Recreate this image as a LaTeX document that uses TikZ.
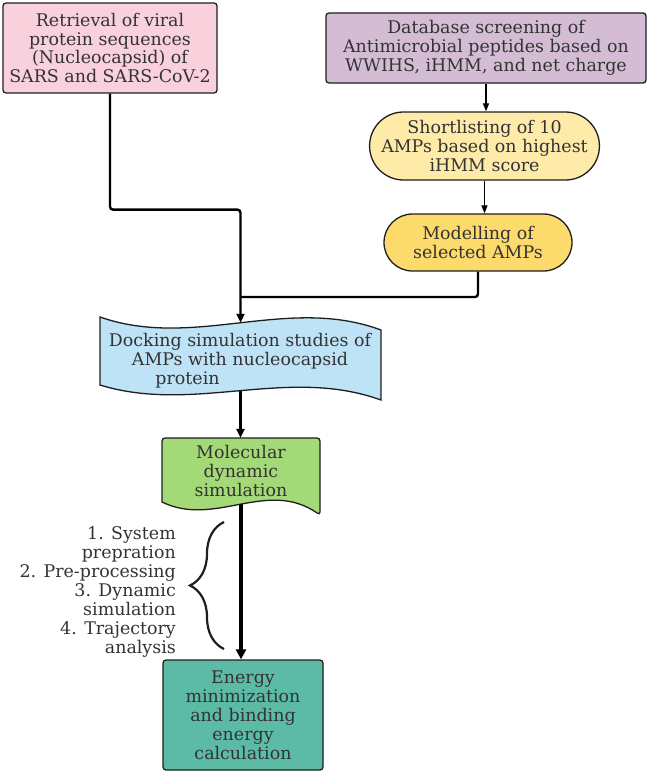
\documentclass[tikz,border=0pt]{standalone}
\usepackage{fontspec}
\setmainfont{DejaVu Serif}
\usetikzlibrary{arrows.meta,shapes.misc,decorations.pathreplacing}
\definecolor{pinkbox}{HTML}{F9D1DD}
\definecolor{purplebox}{HTML}{D4BDD4}
\definecolor{lightyellow}{HTML}{FEEBA9}
\definecolor{darkyellow}{HTML}{FCDA6C}
\definecolor{skybox}{HTML}{BEE3F6}
\definecolor{greenbox}{HTML}{A4D977}
\definecolor{tealbox}{HTML}{5CBBA6}
\definecolor{txt}{HTML}{333333}
\definecolor{edge}{HTML}{1E1E1E}
\begin{document}
\begin{tikzpicture}[x=1bp,y=-1bp,
        every node/.style={font=\fontsize{17.5}{19}\selectfont,text=txt,align=center,inner sep=0pt},
        box/.style={draw=edge,line width=1.3bp,rounded corners=3bp},
        pill/.style={draw=edge,line width=1.3bp,rounded rectangle},
        shape line/.style={draw=edge,line width=1.3bp},
        link/.style={draw=black,line width=2.4bp,rounded corners=3bp},
        flow/.style={link,-{Triangle[length=9bp,width=8bp]}},
        thinflow/.style={draw=black,line width=1.2bp,-{Triangle[length=8bp,width=6bp]}},
        bigflow/.style={draw=black,line width=3.6bp,-{Triangle[length=10bp,width=10bp]}}]
        \useasboundingbox (0,0) rectangle (648,774);
        % top boxes
        \node[box,fill=pinkbox,minimum width=214bp,minimum height=90bp] (retr) at (110,48)
            {Retrieval of viral\\protein sequences\\(Nucleocapsid) of\\SARS and SARS-CoV-2};
        \node[box,fill=purplebox,minimum width=320bp,minimum height=70bp] (dbs) at (486,48)
            {Database screening of\\Antimicrobial peptides based on\\WWIHS, iHMM, and net charge};
        \node[pill,fill=lightyellow,minimum width=215bp,minimum height=68bp] (short) at (484.5,146)
            {Shortlisting of 10\\AMPs based on highest\\iHMM score};
        \node[pill,fill=darkyellow,minimum width=188bp,minimum height=57bp] (model) at (478,242.5)
            {Modelling of\\selected AMPs};
        % docking (wavy tape)
        \draw[shape line,fill=skybox] (100,317) .. controls (194,350) and (287,295) .. (381,330)
            coordinate[pos=0.5] (docktop) -- (381,400)
            .. controls (287,366) and (194,414) .. (100,385) coordinate[pos=0.5] (dockbot) -- cycle;
        \node (dock) at (240,361) {Docking simulation studies of\\AMPs with nucleocapsid\\protein\hspace*{105bp}};
        % molecular dynamics (document shape)
        \draw[shape line,fill=greenbox,rounded corners=3bp] (162,502) -- (162,438) -- (320,438) -- (320,515)
            [sharp corners] .. controls (267,478) and (215,528) .. (162,502) coordinate[pos=0.5] (mdsbot) -- cycle;
        \node[minimum width=158bp,minimum height=66bp] (mds) at (241,471) {Molecular\\dynamic\\simulation};
        \node[box,fill=tealbox,minimum width=160bp,minimum height=110bp] (emin) at (243,715)
            {Energy\\minimization\\and binding\\energy\\calculation};
        % steps
        \node[anchor=east,align=right] (steps) at (176,592)
            {1. System\\prepration\\2. Pre-processing\\3. Dynamic\\simulation\\4. Trajectory\\analysis};
        \draw[edge,line width=2.2bp,decorate,decoration={brace,amplitude=34bp}] (224,649) -- (224,522);
        % connectors
        \draw[thinflow] (dbs.south) -- (dbs.south |- short.north);
        \draw[thinflow] (short.south) -- (short.south |- model.north);
        \draw[link] (model.south) |- (docktop |- 0,297);
        \draw[flow] (retr.south) -- ++(0,116) -| (docktop);
        \draw[flow] (dockbot) -- (dockbot |- mds.north);
        \draw[bigflow] (mdsbot) -- (mdsbot |- emin.north);
    \end{tikzpicture}
\end{document}
